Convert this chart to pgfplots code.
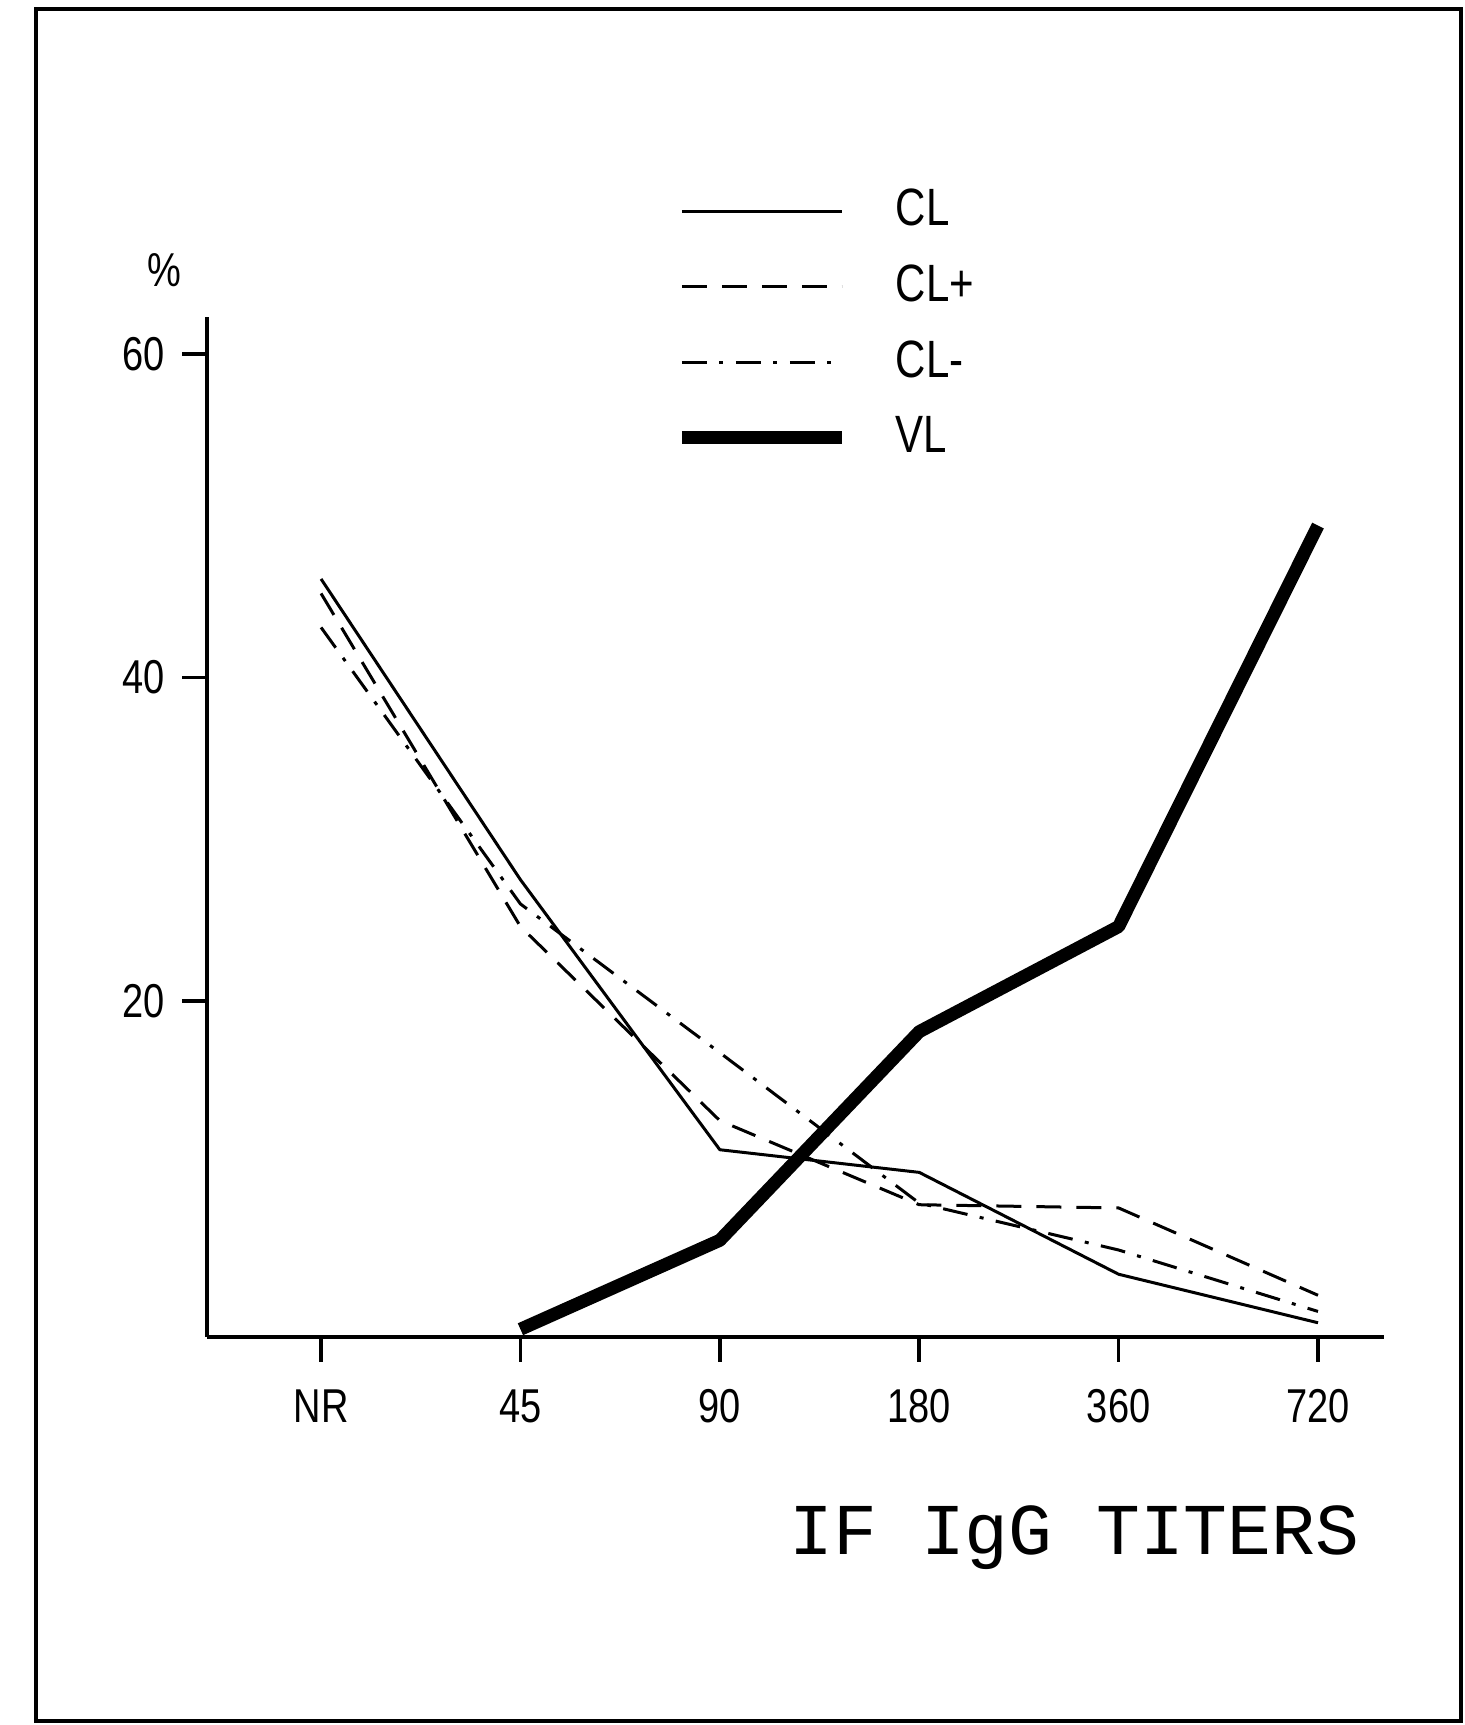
\documentclass[border=0pt]{standalone}
\usepackage{fontspec}
\setmainfont{Liberation Serif}
\newfontfamily\plotfont{Liberation Sans}[FakeStretch=0.8]
\newfontfamily\titlefont{Liberation Mono}
\usepackage{pgfplots}
\pgfplotsset{compat=1.18}
\begin{document}
\begin{tikzpicture}[x=1pt,y=1pt]
\useasboundingbox (0,0) rectangle (292.8,345);
\draw[line width=0.7pt] (7.2,0.8) rectangle (292.2,343.2);
\begin{axis}[
  at={(41.4pt,77.6pt)}, anchor=south west,
  scale only axis, width=235.4pt, height=204pt,
  xmin=-0.572, xmax=5.331, ymin=-0.78, ymax=62.3,
  axis x line=bottom, axis y line=left,
  axis line style={-, line width=0.8pt},
  xtick={0,1,2,3,4,5}, xticklabels={NR,45,90,180,360,720},
  ytick={20,40,60},
  tick align=outside, major tick length=5pt,
  tick style={line width=0.7pt, black},
  /pgf/number format/assume math mode=true,
  ticklabel style={font=\plotfont\fontsize{9.5}{10}\selectfont},
  xticklabel style={yshift=-2pt},
  xlabel={\titlefont\fontsize{14.6}{16}\selectfont IF IgG TITERS},
  xlabel style={at={(axis description cs:0.737,-0.197)}, anchor=center},
  ylabel={\plotfont\fontsize{9.5}{10}\selectfont\%},
  ylabel style={at={(axis description cs:-0.036,1.046)}, rotate=-90, anchor=center},
  legend cell align=left,
  legend image code/.code={\draw[#1] (0pt,0pt) -- (32pt,0pt);},
  legend style={at={(axis description cs:0.397,1.136)}, anchor=north west,
    draw=none, fill=none, inner sep=0pt, row sep=2.3pt,
    font=\plotfont\fontsize{10.5}{11}\selectfont,
    /tikz/every odd column/.style={column sep=7.5pt}},
]
\addplot[black, line width=0.6pt, line join=round] coordinates {
  (0,46.1) (1,27.5) (2,10.8) (3,9.4) (4,3.1) (5,0.1)};
\addlegendentry{CL}
\addplot[black, line width=0.6pt, dash pattern=on 5pt off 3pt, line join=round] coordinates {
  (0,45.2) (1,24.6) (2,12.6) (3,7.4) (4,7.2) (5,1.8)};
\addlegendentry{CL+}
\addplot[black, line width=0.6pt, dash pattern=on 5pt off 2.5pt on 0.8pt off 2.5pt, line join=round] coordinates {
  (0,43.1) (1,26.0) (2,16.8) (3,7.5) (4,4.6) (5,0.8)};
\addlegendentry{CL-}
\addplot[black, line width=2.6pt, line join=round] coordinates {
  (1,-0.3) (2,5.2) (3,18.1) (4,24.6) (5,49.4)};
\addlegendentry{VL}
\end{axis}
\end{tikzpicture}
\end{document}
